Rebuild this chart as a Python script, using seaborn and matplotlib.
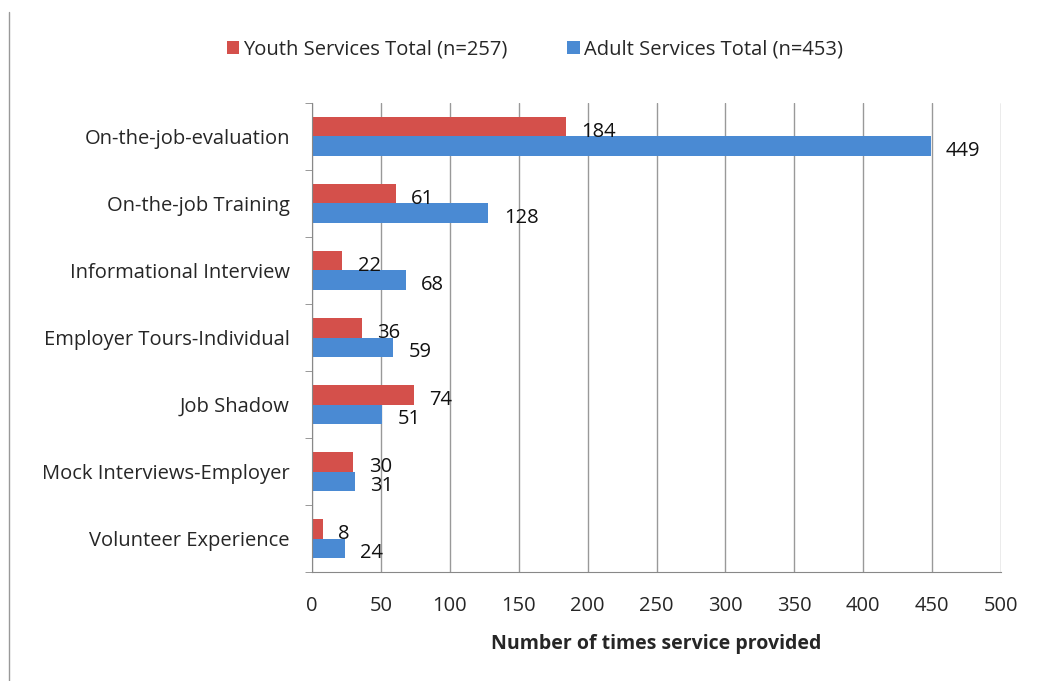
import pandas as pd
import seaborn as sns
import matplotlib.pyplot as plt
from matplotlib.lines import Line2D
from matplotlib.ticker import MultipleLocator

# values
services = ['On-the-job-evaluation', 'On-the-job Training', 'Informational Interview',
            'Employer Tours-Individual', 'Job Shadow', 'Mock Interviews-Employer',
            'Volunteer Experience']
youth = [184, 61, 22, 36, 74, 30, 8]
adult = [449, 128, 68, 59, 51, 31, 24]
series = ['Youth Services Total (n=257)', 'Adult Services Total (n=453)']

df = pd.DataFrame({
    'service': services * 2,
    'count': youth + adult,
    'group': [series[0]] * len(services) + [series[1]] * len(services),
})

sns.set_style('white')
plt.rcParams['font.family'] = ['Open Sans', 'DejaVu Sans']
fs = 14.5

fig = plt.figure(figsize=(10.38, 6.81), dpi=100)
ax = fig.add_axes([0.3006, 0.160, 0.6638, 0.6888])

sns.barplot(data=df, y='service', x='count', hue='group', orient='h',
            palette=['#D4504B', '#4A8AD3'], width=0.57, saturation=1,
            linewidth=0, ax=ax, legend=True)

for c in ax.containers:
    for t in ax.bar_label(c, padding=11, fontsize=fs, color='#111111'):
        x, y = t.xy
        t.xy = (x, y + 0.07)

ax.set_xlim(0, 500)
ax.set_ylim(6.5, -0.5)
ax.xaxis.set_major_locator(MultipleLocator(50))
ax.grid(axis='x', color='#999999', linewidth=1)
ax.set_axisbelow(True)
ax.set_ylabel('')
ax.set_xlabel('Number of times service provided', fontsize=14, fontweight='bold',
              labelpad=13)

ax.tick_params(axis='x', labelsize=fs, pad=17, length=0)
ax.tick_params(axis='y', labelsize=fs, pad=16, length=0)
ax.set_yticks(range(len(services)), services)
ax.set_yticks([i - 0.5 for i in range(len(services) + 1)], minor=True)
ax.tick_params(axis='y', which='minor', length=5, color='#888888', direction='out', left=True)
ax.set_xticks(range(0, 501, 50), minor=True)
ax.tick_params(axis='x', which='minor', length=5, color='#888888', direction='out', bottom=True)

for s in ['top', 'right']:
    ax.spines[s].set_visible(False)
ax.spines['left'].set_color('#888888')
ax.spines['bottom'].set_color('#888888')

h, l = ax.get_legend_handles_labels()
ax.legend(h, l, loc='center', ncol=2, frameon=False, fontsize=fs,
          handlelength=0.6, handleheight=0.6, handletextpad=0.2, columnspacing=3.0)
leg = ax.get_legend()
leg.set_bbox_to_anchor((0.515, 0.927), transform=fig.transFigure)

fig.add_artist(Line2D([0.009, 0.009], [0, 0.982], color='#999999', linewidth=1))

fig.savefig('out.png', dpi=100, facecolor='white')
